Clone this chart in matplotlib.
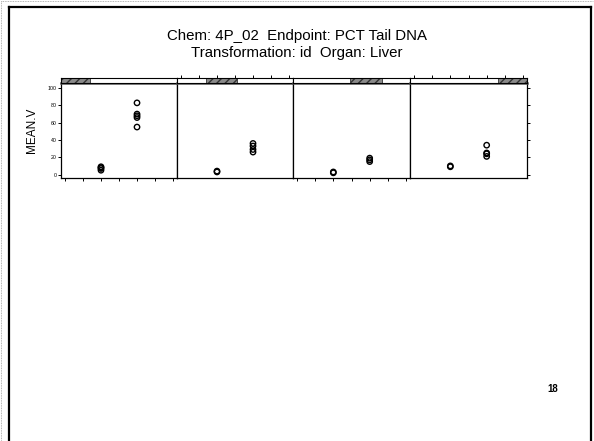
import matplotlib
matplotlib.use("Agg")
import matplotlib.pyplot as plt
from matplotlib.lines import Line2D
from matplotlib.patches import Rectangle

plt.rcParams['font.family'] = ['Liberation Sans', 'DejaVu Sans']

W, H = 594, 441

# Dose groups (two per panel) and the observed means
group_x = [1, 2]
panel_low = [
    [5, 7, 8, 9],
    [3, 4],
    [2, 3],
    [9, 10],
]
panel_high = [
    [55, 66, 68, 70, 83],
    [26, 29, 33, 36],
    [15, 17, 19],
    [21, 24, 25, 34],
]
y_ticks = [0, 20, 40, 60, 80, 100]
y_tick_labels = ["0", "20", "40", "60", "80", "100"]
x_ticks = [0.0, 0.5, 1.0, 1.5, 2.0, 2.5, 3.0]

title_lines = ["Chem: 4P_02  Endpoint: PCT Tail DNA",
               "Transformation: id  Organ: Liver"]
y_label = "MEAN.V"
page_number = "18"

fig = plt.figure(figsize=(W / 100, H / 100), dpi=100)
fig.patch.set_facecolor("white")


def fx(px):
    return px / W


def fy(py):
    return 1 - py / H


# page frame
frame_kw = dict(color="black", lw=1.6, transform=fig.transFigure)
fig.add_artist(Line2D([fx(8.5), fx(591)], [fy(6.5), fy(6.5)], **frame_kw))
fig.add_artist(Line2D([fx(8.5), fx(8.5)], [fy(6.5), fy(441)], **frame_kw))
fig.add_artist(Line2D([fx(591), fx(591)], [fy(6.5), fy(441)], **frame_kw))
faint_kw = dict(color="#9a9a9a", lw=0.6, ls=(0, (1, 1)), transform=fig.transFigure)
fig.add_artist(Line2D([fx(1), fx(593)], [fy(1.2), fy(1.2)], **faint_kw))
fig.add_artist(Line2D([fx(1.2), fx(1.2)], [fy(1), fy(441)], **faint_kw))

# title
fig.text(0.5, fy(40), title_lines[0], ha="center", va="baseline", fontsize=10.8)
fig.text(0.5, fy(56.5), title_lines[1], ha="center", va="baseline", fontsize=10.8)

# panel geometry
edges = [61, 177, 293, 410, 527]
top, bottom = 83, 178
strip_top = 77.5
strip_pos = [(0.0, 0.25), (0.25, 0.52), (0.49, 0.76), (0.75, 1.0)]

for i in range(4):
    left, right = edges[i], edges[i + 1]
    ax = fig.add_axes([fx(left), fy(bottom), fx(right - left), fy(top) - fy(bottom)])
    ax.scatter([group_x[0]] * len(panel_low[i]), panel_low[i], s=15,
               facecolors="none", edgecolors="black", linewidths=1.0, zorder=3)
    ax.scatter([group_x[1]] * len(panel_high[i]), panel_high[i], s=15,
               facecolors="none", edgecolors="black", linewidths=1.0, zorder=3)
    ax.set_xlim(-0.11, 3.11)
    ax.set_ylim(-4, 106)
    for s in ax.spines.values():
        s.set_linewidth(0.9)
    ax.spines["top"].set_color("#555555")
    ax.spines["top"].set_linewidth(1.8)
    ax.set_yticks(y_ticks)
    ax.set_xticks(x_ticks)
    ax.tick_params(axis="both", length=2.2, width=0.7, labelsize=3.8, pad=1,
                   direction="out")
    # alternating tick sides, lattice style
    ax.tick_params(axis="x", bottom=(i % 2 == 0), top=False,
                   labelbottom=False, labeltop=False)
    ax.tick_params(axis="y", left=(i == 0), right=(i == 3),
                   labelleft=(i == 0), labelright=False)
    if i == 0:
        ax.set_yticklabels(y_tick_labels)
        ax.set_ylabel(y_label, fontsize=8.5, labelpad=7)

    # strip above each panel
    sax = fig.add_axes([fx(left), fy(top), fx(right - left), fy(strip_top) - fy(top)])
    sax.set_xlim(-0.11, 3.11)
    sax.set_ylim(0, 1)
    a, b = strip_pos[i]
    sax.add_patch(Rectangle((-0.11 + a * 3.22, 0.05), (b - a) * 3.22, 0.9,
                            facecolor="#8a8a8a", edgecolor="#333333",
                            hatch="////", lw=0.6))
    for s in sax.spines.values():
        s.set_linewidth(0.8)
    sax.set_yticks([])
    sax.set_xticks(x_ticks)
    sax.tick_params(axis="x", bottom=False, top=(i % 2 == 1), labelbottom=False,
                    labeltop=False, length=2.2, width=0.7, direction="out")

fig.text(fx(553), fy(389), page_number, ha="center", va="center", fontsize=7,
         fontweight="bold")

fig.savefig("out.png", dpi=100, facecolor="white")
